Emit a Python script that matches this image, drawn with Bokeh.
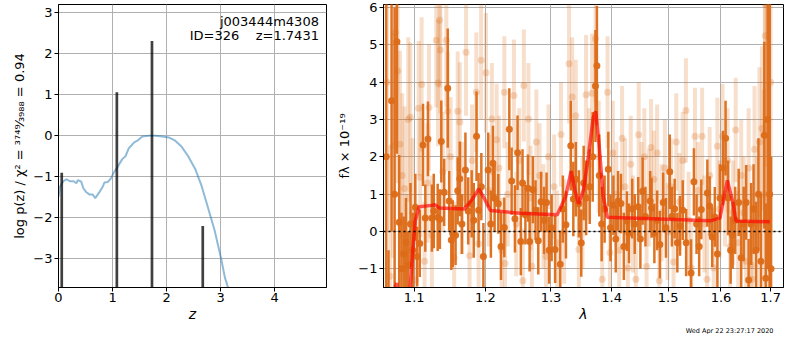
from bokeh.plotting import figure
from bokeh.layouts import row
from bokeh.models import Range1d, FixedTicker, Label, Span, PrintfTickFormatter, Title
from bokeh.embed import file_html
from bokeh.resources import INLINE

FONT = "DejaVu Sans"

# ---------------- left panel: log p(z) ----------------
pz_z = [0.0, 0.03, 0.09, 0.15, 0.21, 0.28, 0.33, 0.36, 0.42, 0.46, 0.51, 0.57, 0.63, 0.68,
        0.76, 0.82, 0.85, 0.91, 0.97, 1.03, 1.09, 1.18, 1.24, 1.30, 1.40, 1.46, 1.55, 1.67,
        1.79, 1.92, 2.04, 2.16, 2.28, 2.40, 2.53, 2.65, 2.77, 2.89, 3.01, 3.08, 3.15]
pz_logp = [-1.49, -1.23, -1.11, -1.06, -1.11, -1.11, -1.16, -1.08, -1.12, -1.28, -1.37, -1.43,
           -1.43, -1.52, -1.37, -1.24, -1.14, -1.13, -1.04, -0.88, -0.77, -0.57, -0.50, -0.31,
           -0.16, -0.12, -0.02, 0.0, 0.0, -0.02, -0.04, -0.12, -0.27, -0.50, -0.81, -1.23,
           -1.77, -2.31, -3.00, -3.46, -3.75]
peak_z = [0.06, 1.08, 1.73, 2.67]
peak_logp = [-0.90, 1.06, 2.31, -2.20]
z_ticks = [0, 1, 2, 3, 4]
logp_ticks = [-3, -2, -1, 0, 1, 2, 3]
obj_name = "j003444m4308"
obj_info = "ID=326\u00a0\u00a0\u00a0\u00a0z=1.7431"
ylabel_left = "log p(z) / χ² = ³⁷⁴⁹⁄₃₉₈₈ = 0.94"

# ---------------- right panel: spectrum ----------------
dark_wave = [1.063, 1.066, 1.070, 1.074, 1.077, 1.080, 1.083, 1.086, 1.089, 1.092, 1.095, 1.098,
             1.1015, 1.104, 1.1075, 1.1119, 1.115, 1.1186, 1.124, 1.1266, 1.132, 1.135, 1.137,
             1.141, 1.146, 1.148, 1.151, 1.153, 1.157, 1.160, 1.163, 1.166, 1.171, 1.175,
             1.180, 1.183, 1.187, 1.190, 1.194, 1.197, 1.204, 1.208, 1.211, 1.2135, 1.219,
             1.223, 1.228, 1.2355, 1.239, 1.244, 1.248, 1.253, 1.2556, 1.260, 1.264, 1.2665,
             1.2716, 1.2757, 1.280, 1.2844, 1.289, 1.293, 1.297, 1.301, 1.3066, 1.3148, 1.319,
             1.324, 1.3318, 1.336, 1.340, 1.345, 1.349, 1.353, 1.357, 1.363, 1.368, 1.3726,
             1.375, 1.379, 1.383, 1.388, 1.3943, 1.398, 1.403, 1.407, 1.411, 1.416, 1.421,
             1.4264, 1.430, 1.4356, 1.440, 1.4462, 1.450, 1.454, 1.459, 1.4675, 1.470, 1.475,
             1.480, 1.485, 1.491, 1.496, 1.503, 1.507, 1.512, 1.517, 1.522, 1.527, 1.5334,
             1.5426, 1.548, 1.553, 1.558, 1.562, 1.5736, 1.578, 1.583, 1.588, 1.593, 1.598,
             1.604, 1.609, 1.614, 1.619, 1.623, 1.628, 1.635, 1.640, 1.645, 1.650, 1.655,
             1.660, 1.665, 1.670, 1.675, 1.680, 1.687, 1.690, 1.694, 1.698, 1.701]
dark_flux = [2.0, -2.5, 3.5, 1.0, 5.08, 0.25, -1.0, -0.6, -0.3, -0.9, 0.2, -0.5,
             0.65, -0.67, -0.32, 2.32, 0.36, 2.48, 0.36, 0.55, 0.38, 0.33, 2.41,
             1.05, 3.84, 0.82, -0.23, -0.06, -0.1, 1.09, 1.41, 0.2, 1.65, 0.55,
             0.74, 0.3, 2.55, 0.57, 1.2, -0.67, 1.65, 0.2, 1.83, 0.89, 0.74,
             -0.4, 0.11, 2.74, 1.35, 0.34, 2.11, -0.27, 1.3, 0.45, 1.16, -0.27,
             1.12, 0.57, -0.25, 0.8, 0.3, 0.78, -0.5, 0.1, -0.48, -0.88, 0.6,
             0.18, 2.3, 0.87, 1.4, 0.74, -0.31, 1.3, 0.9, 1.2, 2.0, 3.9,
             4.44, 1.5, 0.2, 0.6, 1.67, 0.1, 0.7, -0.2, 0.82, 0.75, -0.4,
             0.28, -0.05, 0.61, 0.2, 0.66, -0.2, 1.08, 0.4, 0.82, 0.63, -0.05,
             0.3, -0.35, 0.78, 0.1, 1.6, 0.4, 0.61, -0.3, 0.15, 0.57, -0.3,
             -1.11, 1.33, 0.2, -0.4, 0.59, 1.03, 0.68, -0.15, 0.39, -0.6, 0.9,
             1.7, 2.5, 0.9, -0.5, -0.1, 0.3, 0.78, -0.7, 0.2, 0.78, -1.3,
             0.2, 0.6, -0.5, 1.0, -0.8, 2.58, -1.25, 3.0, 1.0, -1.0]
dark_err = [4.5, 2.0, 3.5, 5.0, 3.0, 1.8, 1.5, 1.0, 1.2, 0.9, 1.1, 1.0,
            0.9, 0.8, 0.9, 1.1, 0.9, 1.0, 0.9, 1.0, 0.9, 0.8, 1.1,
            0.9, 1.6, 0.8, 0.8, 0.9, 0.8, 0.9, 1.0, 0.8, 1.0, 0.9,
            0.9, 1.0, 1.2, 1.0, 0.9, 0.9, 1.0, 0.9, 1.0, 0.9, 0.8,
            0.9, 0.8, 1.1, 0.9, 0.9, 1.0, 0.9, 0.9, 0.8, 0.9, 0.8,
            0.9, 0.8, 0.9, 0.8, 0.9, 0.8, 0.9, 0.9, 0.9, 0.9, 0.9,
            0.9, 1.2, 1.0, 1.0, 0.9, 0.9, 1.0, 1.0, 1.0, 1.2, 1.5,
            1.6, 1.1, 1.0, 0.9, 1.0, 0.9, 0.8, 0.9, 0.8, 0.8, 0.9,
            0.8, 0.8, 0.8, 0.8, 0.8, 0.8, 0.9, 0.8, 0.8, 0.8, 0.8,
            0.8, 0.9, 0.8, 0.8, 1.0, 0.8, 0.8, 0.8, 0.8, 0.8, 0.9,
            0.9, 0.9, 0.8, 0.8, 0.8, 0.9, 0.8, 0.8, 0.8, 0.9, 0.9,
            1.0, 1.0, 1.0, 0.9, 0.9, 0.9, 0.9, 1.0, 1.0, 1.0, 1.1,
            1.1, 1.2, 1.3, 1.5, 1.8, 2.5, 2.0, 4.0, 6.0, 3.0]

faint_wave = [1.064, 1.068, 1.072, 1.075, 1.078, 1.081, 1.084, 1.087, 1.090, 1.092, 1.0947,
              1.098, 1.102, 1.106, 1.108, 1.110, 1.114, 1.118, 1.120, 1.124, 1.130, 1.1325,
              1.1346, 1.1357, 1.139, 1.144, 1.146, 1.150, 1.155, 1.160, 1.163, 1.166, 1.1719,
              1.177, 1.1805, 1.1867, 1.190, 1.1937, 1.2008, 1.205, 1.2095, 1.2165, 1.220,
              1.224, 1.228, 1.229, 1.233, 1.2425, 1.246, 1.2505, 1.256, 1.2576, 1.2647,
              1.268, 1.270, 1.277, 1.282, 1.288, 1.292, 1.296, 1.305, 1.310, 1.316, 1.321,
              1.329, 1.334, 1.340, 1.345, 1.351, 1.357, 1.362, 1.367, 1.3728, 1.378, 1.384,
              1.393, 1.397, 1.402, 1.408, 1.413, 1.418, 1.423, 1.428, 1.433, 1.437, 1.442,
              1.447, 1.452, 1.457, 1.461, 1.465, 1.469, 1.474, 1.480, 1.484, 1.488, 1.494,
              1.499, 1.505, 1.510, 1.515, 1.521, 1.527, 1.533, 1.538, 1.543, 1.550, 1.556,
              1.5636, 1.568, 1.573, 1.578, 1.586, 1.593, 1.597, 1.603, 1.608, 1.613, 1.618,
              1.624, 1.629, 1.634, 1.640, 1.645, 1.650, 1.655, 1.660, 1.662, 1.667, 1.672,
              1.677, 1.682, 1.686, 1.688, 1.689, 1.693, 1.697, 1.700]
faint_flux = [4.0, -1.2, 2.3, 5.33, 4.3, 2.34, 1.5, 1.15, -1.0, 3.0, 3.06,
              0.5, -1.3, 3.3, 1.45, 3.94, -0.8, 1.3, 3.32, -0.1, 5.12, 3.98,
              5.66, 4.86, 1.6, 5.12, 3.22, 2.0, -0.7, 3.22, 2.93, 0.9, 4.8,
              -0.65, 1.9, 3.73, -0.33, 4.59, 4.25, 1.1, 3.01, 2.46, 1.7,
              -0.5, 3.73, -0.86, 1.0, 3.64, 0.2, 1.9, -1.32, 3.91, 3.01,
              0.9, -0.93, 2.4, 1.5, 0.4, -0.67, 2.0, 1.2, -0.3, 2.6, 0.0,
              4.49, 3.6, 3.1, -0.48, 0.5, 3.66, 1.8, 3.7, 5.16, 2.0, -1.28,
              3.73, -0.57, 2.1, 1.0, -0.5, 2.5, 1.2, -0.98, 1.8, 0.2, -1.28,
              2.59, 1.1, 2.0, -0.94, 0.9, 2.25, 1.4, 2.1, -1.32, 0.5, 1.7,
              0.0, 1.2, -0.82, 2.4, 0.8, 1.9, 3.24, 0.3, -0.98, 2.55, 1.1,
              2.55, 0.2, -1.28, 1.5, -0.98, 2.28, 0.6, 2.55, 1.0, 1.9, -0.4,
              0.5, 2.72, -0.3, 1.5, 0.5, -0.8, 1.7, -0.9, -1.28, 2.2, 0.2,
              2.4, 2.76, 1.0, 6.1, 5.24, 3.0, 0.0, 4.0]
faint_err = [4.0, 3.5, 3.0, 3.0, 3.0, 2.5, 2.2, 2.2, 2.0, 2.2, 2.0,
             2.0, 1.8, 1.8, 1.6, 1.8, 1.6, 1.6, 1.7, 1.6, 1.8, 1.7,
             1.8, 1.7, 1.6, 1.8, 1.6, 1.6, 1.5, 1.6, 1.6, 1.5, 1.7,
             1.5, 1.5, 1.6, 1.5, 1.6, 1.6, 1.5, 1.5, 1.5, 1.4,
             1.4, 1.5, 1.4, 1.4, 1.5, 1.4, 1.4, 1.4, 1.5, 1.5,
             1.4, 1.4, 1.4, 1.4, 1.4, 1.4, 1.4, 1.4, 1.4, 1.4, 1.4,
             1.6, 1.6, 1.5, 1.4, 1.5, 1.6, 1.5, 1.6, 1.7, 1.5, 1.4,
             1.5, 1.4, 1.4, 1.4, 1.4, 1.4, 1.3, 1.3, 1.3, 1.3, 1.3,
             1.4, 1.3, 1.3, 1.3, 1.3, 1.3, 1.3, 1.3, 1.3, 1.3, 1.3,
             1.3, 1.3, 1.3, 1.3, 1.3, 1.3, 1.4, 1.3, 1.3, 1.3, 1.3,
             1.3, 1.3, 1.3, 1.3, 1.3, 1.3, 1.3, 1.4, 1.4, 1.4, 1.4,
             1.4, 1.4, 1.4, 1.5, 1.5, 1.5, 1.6, 1.6, 1.6, 1.7, 1.8,
             2.0, 2.2, 2.8, 3.5, 3.5, 4.0, 4.0, 4.0]

model_wave = [1.0735, 1.0765, 1.085, 1.0947, 1.0979, 1.1013, 1.1066, 1.1235, 1.1279, 1.1345,
              1.1693, 1.1811, 1.1903, 1.1976, 1.2072, 1.2516, 1.310, 1.3234, 1.3324, 1.3383,
              1.3447, 1.3528, 1.361, 1.369, 1.373, 1.3784, 1.3856, 1.3927, 1.4976, 1.5806,
              1.598, 1.6039, 1.6125, 1.6235, 1.6296, 1.6985]
model_flux = [-1.6, -1.38, -2.5, -1.5, -0.57, 0.28, 0.66, 0.70, 0.72, 0.63,
              0.60, 0.87, 1.14, 0.91, 0.56, 0.49, 0.45, 0.93, 1.62, 1.12,
              0.74, 1.12, 2.05, 3.06, 3.22, 2.38, 0.95, 0.38, 0.33, 0.29,
              0.36, 0.78, 1.37, 0.78, 0.28, 0.26]
wave_ticks = [1.1, 1.2, 1.3, 1.4, 1.5, 1.6, 1.7]
flux_ticks = [-1, 0, 1, 2, 3, 4, 5, 6]
ylabel_right = "fλ × 10⁻¹⁹"
timestamp = "Wed Apr 22 23:27:17 2020"

ORANGE = "#dc6c18"
GRID = "#b0b0b0"
BOTTOM = 44


def style(p, xlabel, ylabel, xticks, yticks, minus_y):
    p.outline_line_color = "black"
    p.outline_line_width = 1
    p.xaxis.ticker = FixedTicker(ticks=xticks)
    p.yaxis.ticker = FixedTicker(ticks=yticks)
    p.yaxis.major_label_overrides = minus_y
    for ax in (p.xaxis, p.yaxis):
        ax.major_label_text_font = FONT
        ax.major_label_text_font_size = "13px"
        ax.major_label_text_color = "black"
        ax.axis_label_text_font = FONT
        ax.axis_label_text_font_size = "14px"
        ax.axis_label_text_color = "black"
        ax.major_tick_out = 4
        ax.major_tick_in = 0
        ax.minor_tick_out = 0
        ax.minor_tick_in = 0
        ax.axis_line_color = "black"
        ax.major_tick_line_color = "black"
        ax.major_label_standoff = 2
        ax.axis_label_standoff = 3
    p.xaxis.major_label_standoff = 1
    p.xaxis.axis_label_standoff = 1
    p.yaxis.axis_label_text_font_size = "13px"
    p.xaxis.axis_label = xlabel
    p.xaxis.axis_label_text_font_style = "italic"
    p.yaxis.axis_label = ylabel
    p.yaxis.axis_label_text_font_style = "normal"
    p.grid.grid_line_color = GRID
    p.grid.grid_line_width = 1
    p.grid.grid_line_alpha = 1.0


# Left figure
p1 = figure(width=328, height=334, output_backend="svg", toolbar_location=None,
            x_range=Range1d(0, 4.96), y_range=Range1d(-3.7, 3.2),
            min_border_left=58, min_border_right=2, min_border_top=4,
            min_border_bottom=BOTTOM)
style(p1, "z", ylabel_left, z_ticks, logp_ticks, {-3: "−3", -2: "−2", -1: "−1"})
p1.line(pz_z, pz_logp, line_color="#1f77b4", line_alpha=0.5, line_width=2)
p1.vbar(x=peak_z, top=peak_logp, bottom=-10, width=0.05, fill_color="black",
        fill_alpha=0.75, line_color=None)
p1.add_layout(Label(x=4.82, y=2.78, text=obj_name, text_align="right", text_baseline="middle",
                    text_font=FONT, text_font_size="13px", text_color="black"))
p1.add_layout(Label(x=4.82, y=2.44, text=obj_info, text_align="right", text_baseline="middle",
                    text_font=FONT, text_font_size="13px", text_color="black"))

# Right figure
p2 = figure(width=456, height=334, output_backend="svg", toolbar_location=None,
            x_axis_type="log", x_range=Range1d(1.0595, 1.727), y_range=Range1d(-1.5, 6.08),
            min_border_left=55, min_border_right=1, min_border_top=4,
            min_border_bottom=BOTTOM)
style(p2, "λ", ylabel_right, wave_ticks, flux_ticks, {-1: "−1"})
p2.xaxis.formatter = PrintfTickFormatter(format="%.1f")

faint_lo = [f - e for f, e in zip(faint_flux, faint_err)]
faint_hi = [f + e for f, e in zip(faint_flux, faint_err)]
dark_lo = [f - e for f, e in zip(dark_flux, dark_err)]
dark_hi = [f + e for f, e in zip(dark_flux, dark_err)]

p2.segment(x0=faint_wave, y0=faint_lo, x1=faint_wave, y1=faint_hi,
           line_color=ORANGE, line_alpha=0.22, line_width=4)
p2.scatter(faint_wave, faint_flux, size=7, fill_color=ORANGE, fill_alpha=0.25, line_color=None)
p2.segment(x0=dark_wave, y0=dark_lo, x1=dark_wave, y1=dark_hi,
           line_color=ORANGE, line_alpha=0.95, line_width=2.5)
p2.scatter(dark_wave, dark_flux, size=7, fill_color=ORANGE, fill_alpha=0.95, line_color=None)
p2.line(model_wave, model_flux, line_color="red", line_alpha=0.65, line_width=3.5)
p2.add_layout(Span(location=0, dimension="width", line_color="black", line_width=1.5,
                   line_dash="2 3"))
p2.add_layout(Title(text=timestamp, align="right", text_font=FONT, text_font_size="6.5px",
                    text_font_style="normal", text_color="black", standoff=0, offset=10),
              "below")

layout = row(p1, p2)
open("out.html", "w").write(file_html(layout, INLINE))
